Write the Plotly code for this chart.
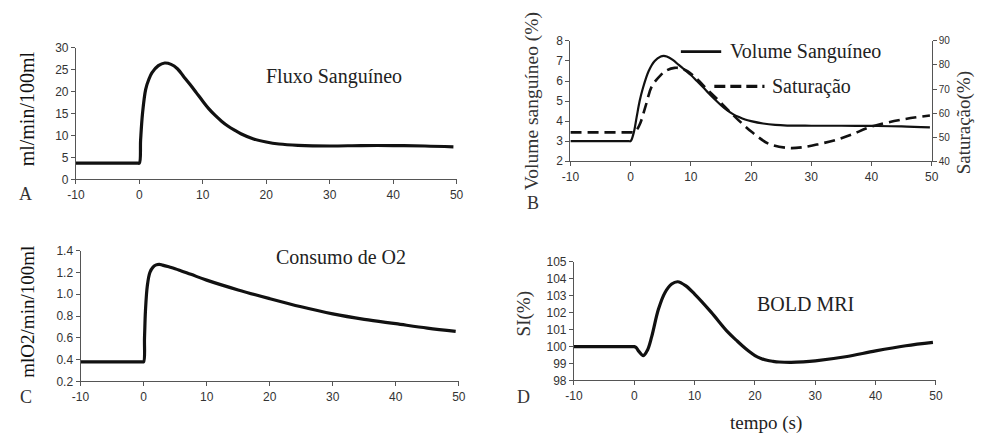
import plotly.graph_objects as go

# ---------------- data ----------------
t_flow = [-10, -0.3, 0, 0.2, 0.5, 1, 1.5, 2, 3, 4, 5, 6, 7, 8, 9, 10, 11, 12, 13, 14, 15, 16, 18, 20, 22, 25, 30, 35, 40, 45, 49.5]
flow = [3.7, 3.7, 3.7, 9, 15, 20.5, 22.8, 24.3, 25.9, 26.5, 26.2, 25.2, 23.4, 21.6, 19.7, 17.8, 16.0, 14.5, 13.2, 12.1, 11.2, 10.4, 9.2, 8.5, 8.05, 7.75, 7.6, 7.7, 7.7, 7.6, 7.4]

t_vol = [-10, -0.3, 0, 0.5, 1, 1.5, 2, 3, 4, 5, 5.5, 6, 7, 8, 9, 10, 11, 12, 13, 14, 15, 16, 17, 18, 19, 20, 22, 24, 26, 30, 35, 40, 45, 49.7]
vol = [3.0, 3.0, 3.0, 3.4, 4.2, 5.0, 5.6, 6.5, 7.0, 7.22, 7.25, 7.22, 7.05, 6.8, 6.55, 6.3, 6.0, 5.7, 5.38, 5.08, 4.8, 4.55, 4.35, 4.2, 4.08, 4.0, 3.88, 3.81, 3.78, 3.77, 3.77, 3.76, 3.74, 3.69]

t_sat = [-10, 0.2, 0.5, 1, 1.6, 2.5, 3.5, 5, 6, 7.3, 8.5, 9.5, 11, 12.7, 14.5, 16.5, 18.5, 20.3, 23, 26.3, 28.5, 31.2, 34, 36.6, 39.9, 44.8, 49.7]
sat = [52, 52, 52, 53, 55.8, 63, 71, 75.8, 77.8, 78.8, 78.5, 77.3, 74.2, 69.9, 65.5, 60.5, 55.7, 51.8, 47.2, 45.5, 45.8, 47.1, 48.8, 51.0, 54.3, 57.2, 59.0]

t_o2 = [-10, -0.3, 0, 0.15, 0.3, 0.6, 1, 1.5, 2, 2.5, 3, 4, 5, 7.5, 10, 15, 20, 25, 30, 35, 40, 45, 49.5]
o2 = [0.38, 0.38, 0.38, 0.6, 0.85, 1.08, 1.2, 1.25, 1.27, 1.275, 1.268, 1.252, 1.235, 1.183, 1.13, 1.04, 0.96, 0.885, 0.82, 0.77, 0.73, 0.69, 0.66]

t_bold = [-10, -0.3, 0, 0.3, 0.8, 1.5, 2.2, 2.9, 4, 5.1, 6.2, 7.2, 8.5, 10, 12.7, 15.4, 17, 18, 19, 20, 21, 22, 23, 24, 26, 28, 30, 35, 40, 45, 49.5]
bold = [100, 100, 100, 99.95, 99.7, 99.47, 99.8, 100.6, 102.2, 103.2, 103.7, 103.83, 103.6, 103.1, 102.05, 100.9, 100.35, 100.02, 99.72, 99.47, 99.3, 99.19, 99.13, 99.09, 99.07, 99.1, 99.16, 99.4, 99.75, 100.05, 100.25]

x_ticks = [-10, 0, 10, 20, 30, 40, 50]
x_tick_labels = ["-10", "0", "10", "20", "30", "40", "50"]

# ---------------- figure ----------------
W, H = 982, 441
SERIF = "Liberation Serif, Times New Roman, serif"
SANS = "Liberation Sans, Arial, sans-serif"
AX = "#555555"

def px_x(p):
    return p / W

def px_y(p):
    return 1 - p / H

fig = go.Figure()
line_main = dict(color="#111111", width=3.2, shape="spline", smoothing=1.0)
fig.add_trace(go.Scatter(x=t_flow, y=flow, mode="lines", line=line_main, xaxis="x", yaxis="y", showlegend=False))
fig.add_trace(go.Scatter(x=t_vol, y=vol, mode="lines", name="Volume Sanguíneo",
                         line=dict(color="#111111", width=2.2, shape="spline", smoothing=1.0),
                         xaxis="x2", yaxis="y2", showlegend=False))
fig.add_trace(go.Scatter(x=t_sat, y=sat, mode="lines", name="Saturação",
                         line=dict(color="#111111", width=2.6, dash="11px,6px", shape="spline", smoothing=1.0),
                         xaxis="x2", yaxis="y5", showlegend=False))
fig.add_trace(go.Scatter(x=t_o2, y=o2, mode="lines", line=line_main, xaxis="x3", yaxis="y3", showlegend=False))
fig.add_trace(go.Scatter(x=t_bold, y=bold, mode="lines", line=line_main, xaxis="x4", yaxis="y4", showlegend=False))

def xax(dom, anchor):
    return dict(domain=dom, anchor=anchor, range=[-10, 50], tickvals=x_ticks, ticktext=x_tick_labels,
                showline=True, linecolor=AX, linewidth=1, ticks="outside", ticklen=4, tickcolor=AX,
                showgrid=False, zeroline=False, tickfont=dict(family=SANS, size=12, color="#333"))

def yax(dom, anchor, rng, dtick, fmt=None, side="left", size=12):
    d = dict(domain=dom, anchor=anchor, range=rng, dtick=dtick, tick0=rng[0], showline=True, linecolor=AX,
             linewidth=1, ticks="outside", ticklen=4, tickcolor=AX, showgrid=False, zeroline=False, side=side,
             tickfont=dict(family=SANS, size=size, color="#333"))
    if fmt:
        d["tickformat"] = fmt
    return d

# domains from pixel geometry
dA_x = [px_x(68), px_x(455)];   dA_y = [px_y(178), px_y(42)]
dB_x = [px_x(570.7), px_x(938)]; dB_y = [px_y(159.3), px_y(35)]
dC_x = [px_x(72.7), px_x(457.3)]; dC_y = [px_y(386.7), px_y(251.7)]
dD_x = [px_x(574.3), px_x(942.3)]; dD_y = [px_y(385.7), px_y(263.3)]

fig.update_layout(
    width=W, height=H, margin=dict(l=0, r=0, t=0, b=0),
    paper_bgcolor="white", plot_bgcolor="white",
    xaxis=xax(dA_x, "y"), yaxis=yax(dA_y, "x", [0, 30], 5),
    xaxis2=xax(dB_x, "y2"), yaxis2=yax(dB_y, "x2", [2, 8], 1),
    yaxis5=dict(yax(dB_y, "x2", [40, 90], 10, side="right", size=10), overlaying="y2"),
    xaxis3=xax(dC_x, "y3"), yaxis3=yax(dC_y, "x3", [0.2, 1.4], 0.2, fmt=".1f"),
    xaxis4=xax(dD_x, "y4"), yaxis4=yax(dD_y, "x4", [98, 105], 1),
)

def ann(text, x, y, size=20, angle=0, color="#222", xanchor="center"):
    fig.add_annotation(text=text, x=px_x(x), y=px_y(y), xref="paper", yref="paper", showarrow=False,
                       textangle=angle, xanchor=xanchor, yanchor="middle",
                       font=dict(family=SERIF, size=size, color=color))

# in-plot labels
ann("Fluxo Sanguíneo", 330, 72)
ann("Consumo de O2", 337, 258)
ann("BOLD MRI", 810, 307)
ann("Volume Sanguíneo", 731, 46, xanchor="left")
ann("Saturação", 774, 82, xanchor="left")

# legend line samples for panel B
fig.add_shape(type="line", xref="paper", yref="paper", x0=px_x(683), x1=px_x(724), y0=px_y(46), y1=px_y(46),
              line=dict(color="#111", width=2.8))
fig.add_shape(type="line", xref="paper", yref="paper", x0=px_x(717), x1=px_x(768), y0=px_y(82), y1=px_y(82),
              line=dict(color="#111", width=3.2, dash="11px,5px"))

# axis titles
ann("ml/min/100ml", 18, 105, size=20, angle=-90, color="#111")
ann("Volume sanguíneo (%)", 532, 97, size=19.5, angle=-90, color="#333")
ann("Saturação(%)", 971, 120, size=19, angle=-90, color="#333")
ann("mlO2/min/100ml", 18, 315, size=19, angle=-90, color="#111")
ann("SI(%)", 523, 317, size=19, angle=-90, color="#333")
ann("tempo (s)", 770, 430, size=19, color="#222")

# panel letters
ann("A", 17, 193, size=18, color="#333")
ann("B", 533, 202, size=18, color="#333")
ann("C", 17, 403, size=18, color="#333")
ann("D", 523, 403, size=18, color="#333")

fig.write_html("out.html")
